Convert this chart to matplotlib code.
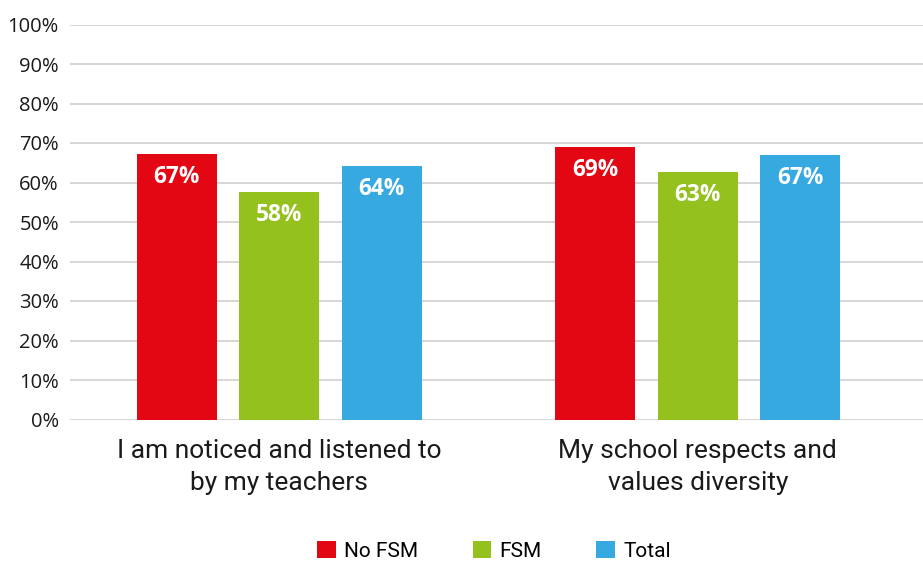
import numpy as np
import matplotlib.pyplot as plt

categories = ["I am noticed and listened to\nby my teachers",
              "My school respects and\nvalues diversity"]
series_names = ["No FSM", "FSM", "Total"]
no_fsm = [67.3, 69.0]
fsm = [57.6, 62.6]
total = [64.2, 66.9]
colors = ["#E30613", "#95C11F", "#36A9E1"]

fig = plt.figure(figsize=(9.23, 5.61), dpi=100)
ax = fig.add_axes([70 / 923, 1 - 419.5 / 561, 1 - 70 / 923, 395 / 561])

x = np.arange(len(categories))
width = 0.191
offset = 0.245
for i, (vals, name, c) in enumerate(zip([no_fsm, fsm, total], series_names, colors)):
    bars = ax.bar(x + (i - 1) * offset, vals, width, color=c, label=name, zorder=3)
    for b, v in zip(bars, vals):
        ax.text(b.get_x() + b.get_width() / 2, v - 5.8, f"{round(v)}%",
                ha="center", va="center", color="white", fontsize=16.3,
                fontweight="bold", family="Open Sans", zorder=4)

ax.set_xlim(-0.5, 1.538)
ax.set_ylim(0, 100)
ax.set_yticks(np.arange(0, 101, 10))
ax.set_yticklabels([f"{t}%" for t in range(0, 101, 10)], family="Open Sans", fontsize=14.5)
ax.set_xticks(x)
ax.set_xticklabels(categories, family="Roboto", fontsize=19, linespacing=1.4)
ax.tick_params(axis="both", length=0, colors="#1a1a1a")
ax.tick_params(axis="y", pad=8)
ax.tick_params(axis="x", pad=14)
ax.grid(axis="y", color="#d0d0d0", linewidth=1.2, zorder=0)
for s in ax.spines.values():
    s.set_visible(False)

fig.legend(loc="center", bbox_to_anchor=(494 / 923, 1 - 551 / 561), ncol=3,
           frameon=False, prop={"family": "Roboto", "size": 15},
           handlelength=0.9, handleheight=0.9, handletextpad=0.4,
           columnspacing=2.6)

fig.savefig("out.png", dpi=100)
